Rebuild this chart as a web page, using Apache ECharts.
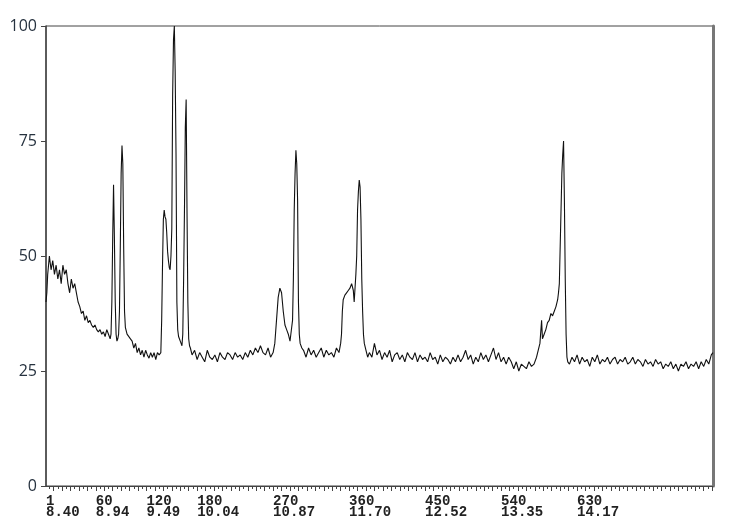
<!DOCTYPE html>
<html>
<head>
<meta charset="utf-8">
<script src="https://cdn.jsdelivr.net/npm/echarts@6/dist/echarts.min.js"></script>
<style>html,body{margin:0;padding:0;background:#fff}#c{width:734px;height:530px}</style>
</head>
<body>
<div id="c"></div>
<script>
// Scan numbers and relative abundance
const scans = [
1,2,3,4,5,7,9,11,13,15,17,19,21,23,25,27,29,31,33,35,37,39,41,43,45,47,49,51,53,55,57,59,61,63,65,67,69,71,73,75,77,78,79,80,81,82,83,84,85,86,87,88,89,90,91,92,93,94,95,97,99,101,103,105,107,109,111,113,115,117,119,121,123,125,127,129,131,133,135,137,
138,139,140,141,142,143,144,145,146,147,148,149,150,151,152,153,154,155,156,157,158,159,160,161,162,163,164,165,166,167,168,169,170,171,172,174,
177,180,183,186,189,192,195,198,201,204,207,210,213,216,219,222,225,228,231,234,237,240,243,246,249,252,255,258,261,264,267,270,272,274,276,278,280,282,284,286,288,290,291,292,293,294,295,296,297,298,299,300,301,302,304,306,
309,312,315,318,321,324,327,330,333,336,339,342,345,348,350,351,352,353,355,357,359,361,363,365,366,367,368,369,370,371,372,373,374,375,376,377,378,380,382,384,
387,390,393,396,399,402,405,408,411,414,417,420,423,426,429,432,435,438,441,444,447,450,453,456,459,462,465,468,471,474,477,480,483,486,489,492,495,498,501,504,507,510,513,516,519,522,525,528,531,534,537,540,543,546,549,552,555,558,561,564,567,570,573,576,579,582,584,586,588,589,591,593,595,597,599,601,603,605,607,608,609,610,611,612,613,614,615,616,617,618,619,621,624,627,
630,633,636,639,642,645,648,651,654,657,660,663,666,669,672,675,678,681,684,687,690,693,696,699,702,705,708,711,714,717,720,723,726,729,732,735,738,741,744,747,750,753,756,759,762,765,768,771,774,777,780,783,786,789,791
];
const abundance = [
40,42,46,48,50,47,49,46,48,45,47,44,48,46,47,44,42,45,43,44,42,40,39,37.5,38,36,37,35.5,36,35,34.5,35,34,33.5,34,33,33.5,32.5,34,33,32,33,40,54,65.5,54,40,33,31.5,32,33,38,52,68,74,70,52,38,34.5,33,33,32,31.5,30,31,29,30,28.5,29.5,28,29.5,28.5,27.8,29,28,29,27.5,29,28.5,29,
36,48,58,60,58.5,58,55,51,49,47.5,47,50,56,85,97,100,90,72,40,34,32.5,32,31.5,31,30.5,33,45,60,78,84,60,40,32,30.5,30,28.5,
29.5,27.5,29,28,27,29.5,28,27.5,28.5,27,29,28,27.5,29,28.5,27.5,29,28,28.5,27.5,29,28,29.5,28.5,30,29,30.5,29,28.5,30,28,29,31,36,41,43,42,38,35,34,33,31.5,33,33,36,45,60,68,73,70,62,40,33,31,30,29.5,
28,30,28.5,29.5,28,29,30,28,29.5,28.5,29,28,30,29,31,33,38,40.5,41.5,42,42.5,43,44,42.5,40,43,46,50,60,64,66.5,65,58,45,38,33,31,29.5,28,29,
28,31,28.5,29.5,27.5,29,28,29.5,27,28.5,29,27.5,28.5,27,29,28,27.5,29,27,28.5,27.5,28,27,29,27.5,28,26.5,28.5,27,28,27.5,26.5,28,27,28.5,27,28,29.5,27.5,28.5,26.5,28,27,29,27.5,28.5,27,28.5,30,27.5,29,27,28,26.5,28,27,25.5,27,25,26.5,26,25.5,27,26,26.5,28,28,31,36,32,33,34,35.5,36,37.5,37,38,39,40.5,42,44,52,60,68,72,75,62,45,33,28,27,26.5,28,27,
28.5,26.5,28,27,27.5,26,28,27,28.5,26.5,27.5,27,28,26.5,27.5,28,26.5,27.5,27,28,26.5,27,28,26.5,27.5,27,26,27.5,26.5,27,26,27.5,26.5,27,25.5,26.5,26,27,25.5,26.5,25,26.5,26,27,25.5,26.5,26,27,25.5,27,26,27.5,26.5,28.5,29
];
const scanLabels = [1, 60, 120, 180, 270, 360, 450, 540, 630];
const timeLabels = ['8.40', '8.94', '9.49', '10.04', '10.87', '11.70', '12.52', '13.35', '14.17'];
const yTicks = [0, 25, 50, 75, 100];

const seriesData = scans.map((s, i) => [s, abundance[i]]);
const majorTicks = [], minorTicks = [];
for (let v = 10; v <= 790; v += 10) majorTicks.push(v);
for (let v = 5; v <= 790; v += 10) minorTicks.push(v);

const chart = echarts.init(document.getElementById('c'), null, {renderer: 'canvas'});
chart.setOption({
  animation: false,
  backgroundColor: '#ffffff',
  grid: {left: 46, right: 21, top: 26, bottom: 44, show: true, borderColor: '#444', borderWidth: 1, outerBoundsMode: 'none'},
  xAxis: [{
    type: 'value', min: 1, max: 791,
    axisLine: {show: true, lineStyle: {color: '#444', width: 1}},
    splitLine: {show: false},
    axisTick: {show: true, customValues: majorTicks, length: 5, lineStyle: {color: '#444'}},
    axisLabel: {
      show: true, customValues: scanLabels, align: 'left', margin: 10,
      fontFamily: 'Liberation Mono', fontWeight: 'bold', fontSize: 14, lineHeight: 11, color: '#222',
      formatter: function (v) { const i = scanLabels.indexOf(Math.round(v)); return i >= 0 ? scanLabels[i] + '\n' + timeLabels[i] : ''; }
    }
  }, {
    type: 'value', min: 1, max: 791, position: 'bottom',
    axisLine: {show: false}, splitLine: {show: false},
    axisTick: {show: true, customValues: minorTicks, length: 3, lineStyle: {color: '#444'}},
    axisLabel: {show: false}
  }],
  yAxis: [{
    type: 'value', min: 0, max: 100, interval: 25,
    axisLine: {show: true, lineStyle: {color: '#444', width: 1.5}},
    splitLine: {show: false},
    axisTick: {show: true, length: 5, lineStyle: {color: '#444'}},
    axisLabel: {
      margin: 9, fontFamily: 'Open Sans', fontSize: 16, color: '#26323f',
      formatter: function (v) { return yTicks.indexOf(v) >= 0 ? String(v) : ''; }
    }
  }, {
    type: 'value', min: 0, max: 100, position: 'right',
    axisLine: {show: true, lineStyle: {color: '#777', width: 3}},
    axisTick: {show: false}, axisLabel: {show: false}, splitLine: {show: false}
  }],
  series: [{
    type: 'line', data: seriesData, xAxisIndex: 0, yAxisIndex: 0,
    showSymbol: false, symbol: 'none',
    lineStyle: {color: '#111', width: 1.1}
  }]
});
</script>
</body>
</html>
